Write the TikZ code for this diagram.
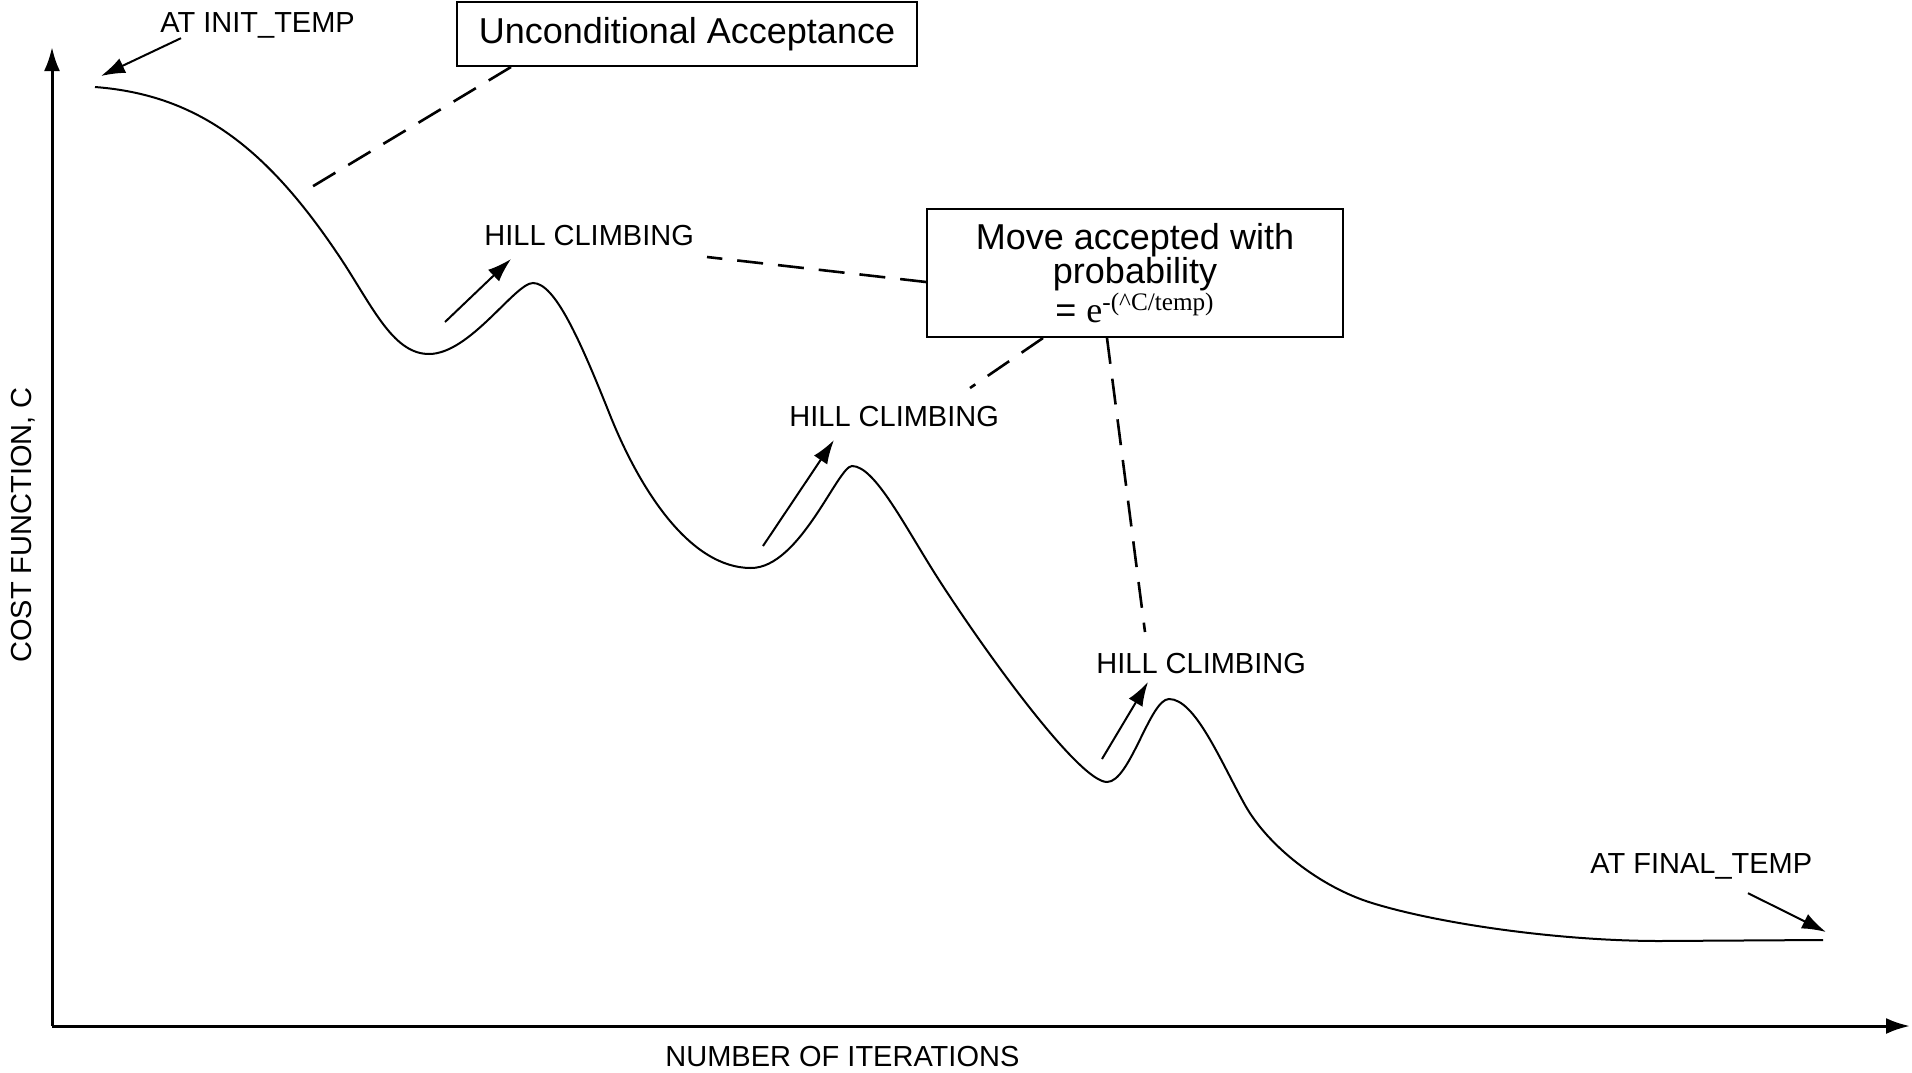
\documentclass[tikz,border=0pt]{standalone}
\usepackage{fontspec}
\setmainfont{Liberation Sans}
\newfontfamily\seriffont{Liberation Serif}
\usetikzlibrary{positioning, arrows.meta, calc}

\begin{document}
\begin{tikzpicture}[
        x=0.5pt, y=-0.5pt,
        >={Latex[length=12pt,width=8pt]},
        plain/.style={font=\fontsize{14.5}{17}\selectfont, inner sep=0pt},
        callout/.style={draw, line width=1pt, font=\fontsize{18}{17}\selectfont, align=center, inner sep=0pt},
        axis/.style={line width=1.5pt, -{Latex[length=12pt,width=8pt]}},
        pointer/.style={line width=1pt, ->},
        leader/.style={line width=1.3pt, dash pattern=on 13pt off 7.5pt},
        cost/.style={line width=1pt},
    ]
    \useasboundingbox (0,0) rectangle (1912,1072);

        % Draw the axes
        \coordinate (O) at (52,1026);
        \coordinate (Y) at (52,47);
        \coordinate (X) at (1910,1026);
        \draw[axis] (O) -- (Y);
        \draw[axis] (O) -- (X);
        \node[plain, anchor=base west, rotate=90] (ylab) at (32,663) {COST FUNCTION, C};
        \node[plain, anchor=base west] (xlab) at (665,1066) {NUMBER OF ITERATIONS};

        % Draw the cost curve
        \draw[cost] (95,87) .. controls (200,95) and (270,150) .. (345,265)
            .. controls (375,312) and (395,354) .. (429,354)
            .. controls (470,354) and (515,283) .. (533,283)
            .. controls (555,283) and (580,340) .. (610,415)
            .. controls (640,490) and (690,568) .. (751,568)
            .. controls (800,568) and (838,466) .. (852,466)
            .. controls (875,466) and (905,527) .. (939,580)
            .. controls (990,659) and (1080,782) .. (1107,782)
            .. controls (1130,782) and (1150,699) .. (1169,699)
            .. controls (1195,699) and (1220,760) .. (1245,805)
            .. controls (1268,846) and (1320,887) .. (1372,903)
            .. controls (1440,924) and (1560,941) .. (1660,941)
            -- (1823,940);

        % Draw the start and end labels
        \node[plain, anchor=base west] (init) at (160,32) {AT INIT\_TEMP};
        \node[plain, anchor=base west] (final) at (1590,873) {AT FINAL\_TEMP};
        \coordinate (init-tip) at (101,76);
        \coordinate (final-tip) at (1826,932);
        \draw[pointer] (init.south west) ++(21,0) -- (init-tip);
        \draw[pointer] (final.south west) ++(158,14) -- (final-tip);

        % Draw the hill climbing labels and their arrows
        \foreach \name / \x / \y in {1/484/245, 2/789/426, 3/1096/673}
            \node[plain, anchor=base west] (hill-\name) at (\x,\y) {HILL CLIMBING};

        \foreach \name / \xa / \ya / \xb / \yb in {1/445/322/511/259, 2/763/546/834/440, 3/1102/759/1148/682}
        {
            \coordinate (foot-\name) at (\xa,\ya);
            \coordinate (tip-\name) at (\xb,\yb);
            \draw[pointer] (foot-\name) -- (tip-\name);
        }

        % Draw the two boxes
        \node[callout, minimum width=230pt, minimum height=32pt] (uncond) at (687,34)
            {Unconditional Acceptance};
        \node[callout, minimum width=208pt, minimum height=64pt] (accept) at (1135,273)
            {Move accepted with\\probability\\= {\seriffont e\textsuperscript{-(\textasciicircum C/temp)}}};

        % Connect the boxes with the curve
        \coordinate (slope) at (310,188);
        \coordinate (hill-1-end) at (707,257);
        \coordinate (hill-2-end) at (970,388);
        \coordinate (hill-3-end) at (1145,632);
        \draw[leader] (uncond.south -| 511,0) -- (slope);
        \draw[leader] (accept.west |- 0,282) -- (hill-1-end);
        \draw[leader] (accept.south -| 1043,0) -- (hill-2-end);
        \draw[leader] (accept.south -| 1107,0) -- (hill-3-end);
\end{tikzpicture}
\end{document}
